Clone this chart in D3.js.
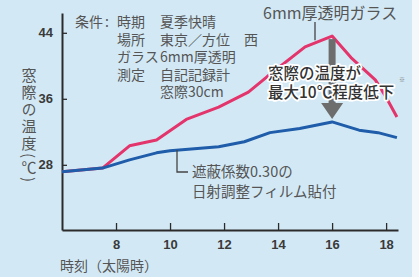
<!DOCTYPE html>
<html>
<head>
<meta charset="utf-8">
<script src="https://cdn.jsdelivr.net/npm/d3@7.9.0/dist/d3.min.js"></script>
<style>
  body { margin: 0; background: #fff; }
  svg text { font-family: "Noto Sans CJK JP", "Noto Sans", sans-serif; }
</style>
</head>
<body>
<svg id="chart" width="419" height="277"></svg>
<script>
// hours (solar time) and window-side temperature (°C)
const glassHours = [6, 7.5, 8.5, 9.5, 10.6, 11.8, 12.9, 13.6, 15.0, 16, 16.7, 17.6, 18.0, 18.4];
const glassTemps = [27.15, 27.6, 30.3, 31.0, 33.5, 35.0, 36.8, 38.7, 42.3, 43.6, 41.0, 38.3, 36.2, 33.8];

const filmHours = [6, 7.5, 8.5, 9.5, 10, 11.8, 12.75, 13.7, 14.8, 16, 17, 17.7, 18.4];
const filmTemps = [27.15, 27.6, 28.6, 29.45, 29.7, 30.2, 30.8, 31.9, 32.4, 33.2, 32.2, 31.9, 31.3];

const xTicks = [8, 10, 12, 14, 16, 18];
const yTicks = [28, 36, 44];

const conditionLabels = ["時期", "場所", "ガラス", "測定"];
const conditionValues = ["夏季快晴", "東京／方位　西", "6mm厚透明", "自記記録計", "窓際30cm"];
const diffNote = ["窓際の温度が", "最大10℃程度低下"];
const filmNote = ["遮蔽係数0.30の", "日射調整フィルム貼付"];

const svg = d3.select("#chart");

// panel background
svg.append("rect").attr("width", 419).attr("height", 277).attr("fill", "#f4f8fa");
svg.append("rect").attr("x", 0).attr("y", 0).attr("width", 412).attr("height", 277)
  .attr("fill", "#d2e9f5");

const x = d3.scaleLinear().domain([6, 18.44]).range([62, 398]);
const y = d3.scaleLinear().domain([20.1, 46.4]).range([230, 13]);

const line = d3.line().x(d => x(d[0])).y(d => y(d[1]));

const glass = d3.zip(glassHours, glassTemps);
const film = d3.zip(filmHours, filmTemps);

// axes
const yAxis = d3.axisLeft(y).tickValues(yTicks).tickSizeInner(-5).tickSizeOuter(0).tickPadding(9);
const xAxis = d3.axisBottom(x).tickValues(xTicks).tickSizeInner(-7).tickSizeOuter(0).tickPadding(10);

const gy = svg.append("g").attr("transform", "translate(62,0)").call(yAxis);
const gx = svg.append("g").attr("transform", "translate(0,230)").call(xAxis);

[gx, gy].forEach(g => {
  g.select(".domain").attr("stroke", "#2b2b2b").attr("stroke-width", 2);
  g.selectAll(".tick line").attr("stroke", "#2b2b2b").attr("stroke-width", 1.3);
  g.selectAll(".tick text").attr("fill", "#3a3a3a").attr("font-size", 13)
    .attr("font-weight", 600).style("font-family", "'Liberation Sans', Arial, sans-serif");
});

// lines
svg.append("path").datum(glass).attr("d", line)
  .attr("fill", "none").attr("stroke", "#e4346c").attr("stroke-width", 3)
  .attr("stroke-linejoin", "round");
svg.append("path").datum(film).attr("d", line)
  .attr("fill", "none").attr("stroke", "#1f5ca9").attr("stroke-width", 3)
  .attr("stroke-linejoin", "round");

const textColor = "#555";

// multi-line text helper: one <text>, one tspan per line
function multiline(lines, px, py, step, size) {
  const t = svg.append("text").attr("x", px).attr("y", py).attr("font-size", size)
    .attr("fill", textColor);
  t.selectAll("tspan").data(lines).join("tspan")
    .attr("x", px).attr("dy", (d, i) => i === 0 ? 0 : step).text(d => d);
  return t;
}

// conditions block
svg.append("text").attr("x", 75).attr("y", 27).attr("font-size", 14).attr("fill", textColor)
  .text("条件");
svg.append("text").attr("x", 105).attr("y", 27).attr("font-size", 14).attr("fill", textColor)
  .text(":");
multiline(conditionLabels, 117, 27, 17.5, 14);
multiline(conditionValues, 160, 27, 17.5, 14);

// y title (vertical writing)
svg.append("text").attr("x", 29).attr("y", 68).attr("font-size", 15)
  .style("writing-mode", "vertical-rl").attr("letter-spacing", 2)
  .attr("fill", textColor).text("窓際の温度(℃)");

// x title
svg.append("text").attr("x", 60).attr("y", 271).attr("font-size", 14)
  .attr("fill", textColor).text("時刻（太陽時）");

// glass label + leader
const peak = glass[9];
svg.append("line").attr("x1", 315).attr("x2", 315).attr("y1", 22).attr("y2", y(43.1))
  .attr("stroke", "#444").attr("stroke-width", 1.3);
svg.append("text").attr("x", 263).attr("y", 19).attr("font-size", 16)
  .attr("fill", textColor).text("6mm厚透明ガラス");

// gray arrow from red peak to blue peak
const ax = x(peak[0]);
const yTop = y(peak[1]) + 3;
const yBot = y(filmTemps[9]) - 3;
svg.append("rect").attr("x", ax - 3.5).attr("y", yTop).attr("width", 7).attr("height", yBot - 15 - yTop)
  .attr("fill", "#6d6d6d");
svg.append("path")
  .attr("d", `M${ax - 11},${yBot - 16} L${ax + 11},${yBot - 16} L${ax},${yBot} Z`)
  .attr("fill", "#6d6d6d");

// difference annotation with white halo
multiline(diffNote, 268, 79, 19, 15.5)
  .attr("font-weight", 500).attr("fill", "#333")
  .attr("stroke", "#fff").attr("stroke-width", 3.5).attr("paint-order", "stroke")
  .attr("stroke-linejoin", "round");
svg.append("text").attr("x", 399).attr("y", 82).attr("font-size", 6)
  .attr("fill", "#777").text("※");

// film label + leader
svg.append("path").attr("d", `M177,${y(29.8)} V172 H188`)
  .attr("fill", "none").attr("stroke", "#444").attr("stroke-width", 1.3);
multiline(filmNote, 192, 177, 20, 14.5);
</script>
</body>
</html>
